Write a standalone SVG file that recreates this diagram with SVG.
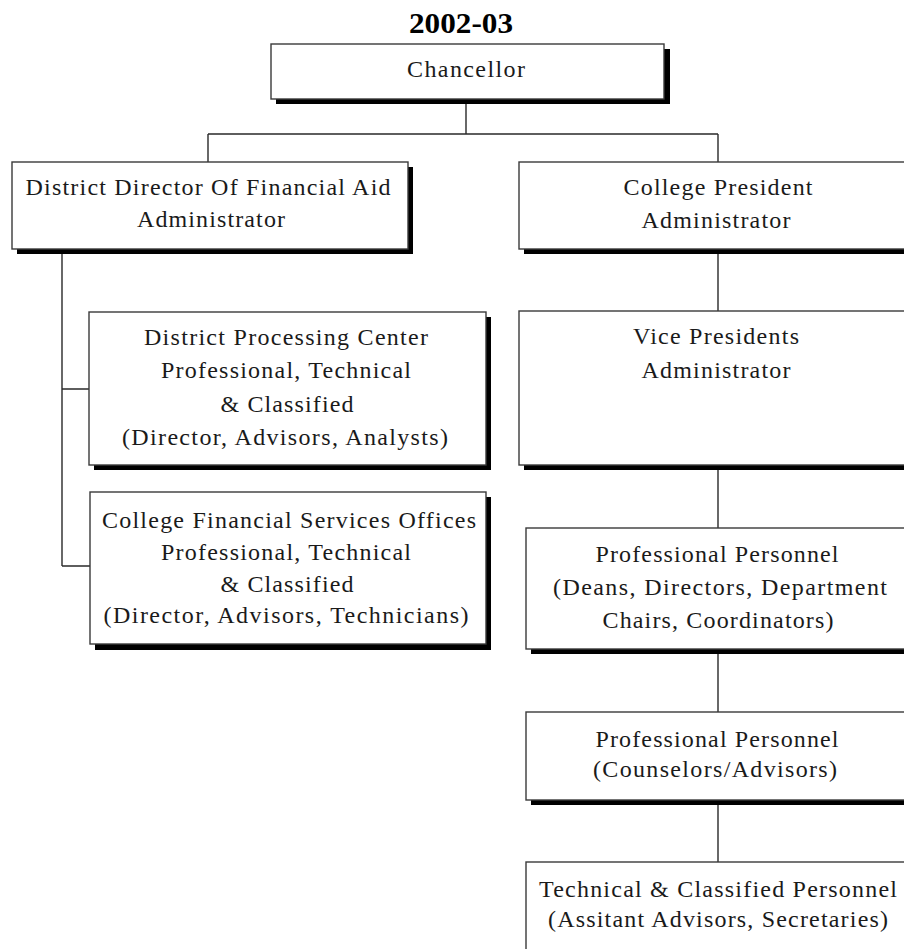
<svg xmlns="http://www.w3.org/2000/svg" width="904" height="949" viewBox="0 0 904 949">
  <style>
    .box { fill: #ffffff; stroke: #3a3a3a; stroke-width: 1.4; }
    .shadow { fill: #000000; }
    .lbl { font-family: "Liberation Serif", "Times New Roman", serif; font-size: 24px; fill: #1a1a1a; text-anchor: middle; }
    .title { font-family: "Liberation Serif", "Times New Roman", serif; font-size: 30px; font-weight: bold; fill: #000000; text-anchor: middle; }
    .conn { stroke: #2a2a2a; stroke-width: 1.4; fill: none; }
  </style>
  <rect width="904" height="949" fill="#ffffff"/>

  <text class="title" x="461" y="33" textLength="104" lengthAdjust="spacingAndGlyphs">2002-03</text>

  <!-- connectors -->
  <g id="connectors">
    <path class="conn" d="M466 100 V134 M208 134 H718 M208 134 V162 M718 134 V162"/>
    <path class="conn" d="M62 249 V566 M62 389 H89 M62 566 H90"/>
    <path class="conn" d="M718 249 V311 M718 465 V528 M718 649 V712 M718 800 V862"/>
  </g>

  <g id="chancellor">
    <rect class="shadow" x="276" y="49" width="394" height="55"/>
    <rect class="box" x="271" y="44" width="393" height="55"/>
    <text class="lbl" x="466" y="77" textLength="118" lengthAdjust="spacing">Chancellor</text>
  </g>

  <g id="district-director">
    <rect class="shadow" x="17" y="167" width="396" height="87"/>
    <rect class="box" x="12" y="162" width="396" height="87"/>
    <text class="lbl" x="208" y="195" textLength="365" lengthAdjust="spacing">District Director Of Financial Aid</text>
    <text class="lbl" x="211" y="227" textLength="148" lengthAdjust="spacing">Administrator</text>
  </g>

  <g id="college-president">
    <rect class="shadow" x="524" y="167" width="400" height="87"/>
    <rect class="box" x="519" y="162" width="400" height="87"/>
    <text class="lbl" x="718" y="195" textLength="189" lengthAdjust="spacing">College President</text>
    <text class="lbl" x="716" y="228" textLength="149" lengthAdjust="spacing">Administrator</text>
  </g>

  <g id="processing-center">
    <rect class="shadow" x="94" y="317" width="397" height="153"/>
    <rect class="box" x="89" y="312" width="397" height="153"/>
    <text class="lbl" x="286" y="345" textLength="284" lengthAdjust="spacing">District Processing Center</text>
    <text class="lbl" x="286" y="378" textLength="250" lengthAdjust="spacing">Professional, Technical</text>
    <text class="lbl" x="287" y="412" textLength="133" lengthAdjust="spacing">&amp; Classified</text>
    <text class="lbl" x="285" y="445" textLength="326" lengthAdjust="spacing">(Director, Advisors, Analysts)</text>
  </g>

  <g id="financial-services">
    <rect class="shadow" x="95" y="497" width="396" height="153"/>
    <rect class="box" x="90" y="492" width="396" height="152"/>
    <text class="lbl" x="289" y="528" textLength="374" lengthAdjust="spacing">College Financial Services Offices</text>
    <text class="lbl" x="286" y="560" textLength="250" lengthAdjust="spacing">Professional, Technical</text>
    <text class="lbl" x="287" y="592" textLength="133" lengthAdjust="spacing">&amp; Classified</text>
    <text class="lbl" x="286" y="623" textLength="365" lengthAdjust="spacing">(Director, Advisors, Technicians)</text>
  </g>

  <g id="vice-presidents">
    <rect class="shadow" x="524" y="316" width="400" height="154"/>
    <rect class="box" x="519" y="311" width="400" height="154"/>
    <text class="lbl" x="716" y="344" textLength="166" lengthAdjust="spacing">Vice Presidents</text>
    <text class="lbl" x="716" y="378" textLength="149" lengthAdjust="spacing">Administrator</text>
  </g>

  <g id="professional-personnel">
    <rect class="shadow" x="531" y="533" width="400" height="121"/>
    <rect class="box" x="526" y="528" width="400" height="121"/>
    <text class="lbl" x="717" y="562" textLength="243" lengthAdjust="spacing">Professional Personnel</text>
    <text class="lbl" x="720" y="595" textLength="334" lengthAdjust="spacing">(Deans, Directors, Department</text>
    <text class="lbl" x="718" y="628" textLength="231" lengthAdjust="spacing">Chairs, Coordinators)</text>
  </g>

  <g id="counselors">
    <rect class="shadow" x="531" y="717" width="400" height="88"/>
    <rect class="box" x="526" y="712" width="400" height="88"/>
    <text class="lbl" x="717" y="747" textLength="243" lengthAdjust="spacing">Professional Personnel</text>
    <text class="lbl" x="715" y="777" textLength="244" lengthAdjust="spacing">(Counselors/Advisors)</text>
  </g>

  <g id="technical-classified">
    <rect class="shadow" x="531" y="867" width="400" height="100"/>
    <rect class="box" x="526" y="862" width="400" height="100"/>
    <text class="lbl" x="718" y="897" textLength="358" lengthAdjust="spacing">Technical &amp; Classified Personnel</text>
    <text class="lbl" x="718" y="927" textLength="340" lengthAdjust="spacing">(Assitant Advisors, Secretaries)</text>
  </g>
</svg>
